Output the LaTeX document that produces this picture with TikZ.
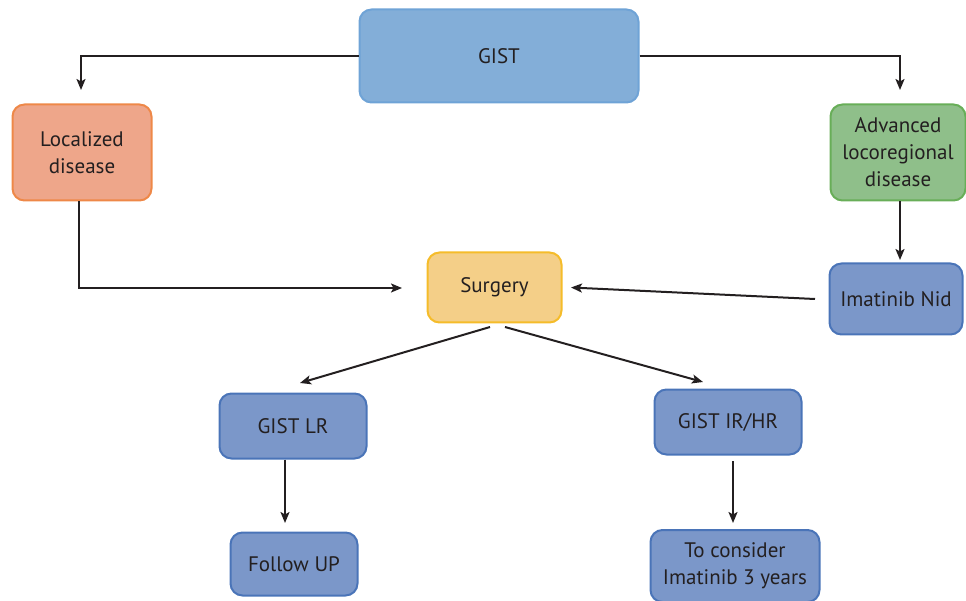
\documentclass[tikz,border=0pt]{standalone}
\usepackage{fontspec}
\setmainfont{PT Sans}
\usetikzlibrary{arrows.meta}
\definecolor{gistfill}{HTML}{83AED8}
\definecolor{gistdraw}{HTML}{6FA3D6}
\definecolor{locfill}{HTML}{EEA68A}
\definecolor{locdraw}{HTML}{EE8848}
\definecolor{advfill}{HTML}{8FBF8A}
\definecolor{advdraw}{HTML}{68AE58}
\definecolor{surfill}{HTML}{F4CF88}
\definecolor{surdraw}{HTML}{F5BC2A}
\definecolor{bluefill}{HTML}{7B97C9}
\definecolor{bluedraw}{HTML}{4A74B8}
\definecolor{txt}{HTML}{231F20}
\tikzset{
  box/.style={rounded corners=12pt, line width=2pt, align=center, text=txt,
    font=\fontsize{21}{27}\selectfont, inner sep=0pt},
  bluebox/.style={box, fill=bluefill, draw=bluedraw},
  conn/.style={line width=2pt, draw=txt, -{Stealth[length=11pt,width=9pt,inset=2.5pt]}},
}
\begin{document}
\begin{tikzpicture}[x=1pt,y=-1pt]
\useasboundingbox (0,0) rectangle (966,601);
\node[box, fill=gistfill, draw=gistdraw, minimum width=279pt, minimum height=93pt] (gist) at (499,56) {GIST};
\node[box, fill=locfill, draw=locdraw, minimum width=139pt, minimum height=96pt] (loc) at (82,152.5) {Localized\\disease};
\node[box, fill=advfill, draw=advdraw, minimum width=135pt, minimum height=96pt] (adv) at (898,152.5) {Advanced\\locoregional\\disease};
\node[box, fill=surfill, draw=surdraw, minimum width=134pt, minimum height=70pt] (sur) at (494.5,287.5) {Surgery};
\node[bluebox, minimum width=133pt, minimum height=71pt] (ima) at (896,299) {Imatinib Nid};
\node[bluebox, minimum width=147pt, minimum height=65pt] (lr) at (293,426) {GIST LR};
\node[bluebox, minimum width=147pt, minimum height=65pt] (hr) at (728,422) {GIST IR/HR};
\node[bluebox, minimum width=127pt, minimum height=63pt] (fu) at (294,564) {Follow UP};
\node[bluebox, minimum width=169pt, minimum height=72pt] (tc) at (735,566) {To consider\\Imatinib 3 years};

\coordinate (t1) at (81,90);
\coordinate (t2) at (900,90);
\coordinate (t3) at (402,288);
\draw[conn] (gist.west) -| (t1);
\draw[conn] (gist.east) -| (t2);
\draw[conn] (loc.south -| 79,0) |- (t3);
\draw[conn] (adv.south -| 900,0) -- (900,260);
\draw[conn] (ima.west -| 815,0) -- (sur.east -| 571,0);
\draw[conn] (490,327) -- (300,383);
\draw[conn] (505,327) -- (703,382);
\draw[conn] (lr.south -| 285,0) -- (285,523);
\draw[conn] (733,461) -- (733,523);
\end{tikzpicture}
\end{document}
